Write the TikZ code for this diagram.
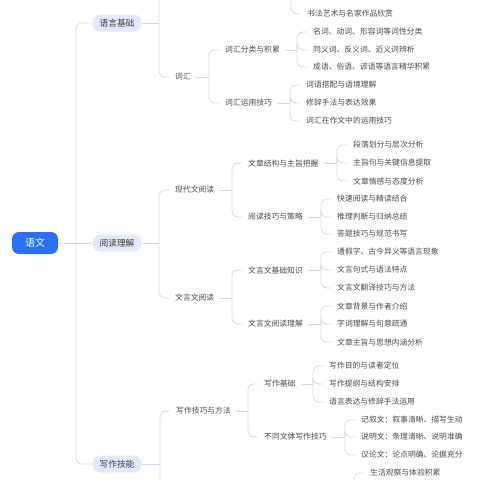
\documentclass[tikz,border=0pt]{standalone}
\usepackage{fontspec}
\newfontfamily\cjk{Noto Sans CJK SC}
\definecolor{rootblue}{HTML}{2C6FEF}
\definecolor{topicbg}{HTML}{E3E8FB}
\definecolor{linkgray}{HTML}{D6D6E6}
\definecolor{txtgray}{HTML}{4A4A4A}

\begin{document}
\begin{tikzpicture}[x=1pt, y=-1pt,
  root/.style={fill=rootblue, text=white, rounded corners=7pt, minimum width=46pt,
    minimum height=22pt, inner sep=0pt, font=\cjk\fontsize{10}{12}\selectfont},
  topic/.style={fill=topicbg, text=txtgray!80!black, rounded corners=8pt, minimum width=49pt,
    minimum height=17pt, inner sep=0pt, font=\cjk\fontsize{8.7}{10}\selectfont},
  leaf/.style={anchor=west, inner xsep=2pt, inner ysep=1pt, text=txtgray,
    font=\cjk\fontsize{7.8}{9}\selectfont},
  link/.style={draw=linkgray, line width=0.8pt, rounded corners=6pt}]
  \useasboundingbox (0,0) rectangle (480,480);
  \clip (0,0) rectangle (480,480);

  % root and main topics
  \node[root]  (yw)   at (35,243)  {语文};
  \node[topic] (yyjc) at (117,23)  {语言基础};
  \node[topic] (ydlj) at (117,243) {阅读理解};
  \node[topic] (xzjn) at (117,464) {写作技能};
  \coordinate (trunk) at (76,243);

  % level 2
  \node[leaf] (ch)   at (173,77)  {词汇};
  \node[leaf] (xdw)  at (173,190) {现代文阅读};
  \node[leaf] (wyw)  at (173,298) {文言文阅读};
  \node[leaf] (xzjq) at (174,411) {写作技巧与方法};
  \coordinate (hid1) at (173,-31);   % 语言基础 first branch, off the page
  \coordinate (hid4) at (174,518);   % 写作技能 second branch, off the page

  % level 3
  \node[leaf] (chfl) at (223,50)  {词汇分类与积累};
  \node[leaf] (chyy) at (223,103) {词汇运用技巧};
  \node[leaf] (wzjg) at (246,163) {文章结构与主旨把握};
  \node[leaf] (ydjq) at (246,217) {阅读技巧与策略};
  \node[leaf] (wyjc) at (246,270) {文言文基础知识};
  \node[leaf] (wyld) at (246,324) {文言文阅读理解};
  \node[leaf] (xzjc) at (262,384) {写作基础};
  \node[leaf] (btwt) at (262,437) {不同文体写作技巧};

  % level 4
  \node[leaf] (sf)    at (305,14)  {书法艺术与名家作品欣赏};
  \coordinate (hid2) at (291,-4);
  \node[leaf] (chfl1) at (311,32)  {名词、动词、形容词等词性分类};
  \node[leaf] (chfl2) at (311,50)  {同义词、反义词、近义词辨析};
  \node[leaf] (chfl3) at (311,67)  {成语、俗语、谚语等语言精华积累};
  \node[leaf] (chyy1) at (304,85)  {词语搭配与语境理解};
  \node[leaf] (chyy2) at (304,103) {修辞手法与表达效果};
  \node[leaf] (chyy3) at (304,121) {词汇在作文中的运用技巧};
  \node[leaf] (wzjg1) at (351,145) {段落划分与层次分析};
  \node[leaf] (wzjg2) at (351,163) {主旨句与关键信息提取};
  \node[leaf] (wzjg3) at (351,181) {文章情感与态度分析};
  \node[leaf] (ydjq1) at (335,199) {快速阅读与精读结合};
  \node[leaf] (ydjq2) at (335,217) {推理判断与归纳总结};
  \node[leaf] (ydjq3) at (335,234) {答题技巧与规范书写};
  \node[leaf] (wyjc1) at (335,252) {通假字、古今异义等语言现象};
  \node[leaf] (wyjc2) at (335,270) {文言句式与语法特点};
  \node[leaf] (wyjc3) at (335,288) {文言文翻译技巧与方法};
  \node[leaf] (wyld1) at (335,306) {文章背景与作者介绍};
  \node[leaf] (wyld2) at (335,324) {字词理解与句意疏通};
  \node[leaf] (wyld3) at (335,342) {文章主旨与思想内涵分析};
  \node[leaf] (xzjc1) at (327,366) {写作目的与读者定位};
  \node[leaf] (xzjc2) at (327,384) {写作提纲与结构安排};
  \node[leaf] (xzjc3) at (327,402) {语言表达与修辞手法运用};
  \node[leaf] (btwt1) at (359,420) {记叙文：叙事清晰、描写生动};
  \node[leaf] (btwt2) at (359,437) {说明文：条理清晰、说明准确};
  \node[leaf] (btwt3) at (359,455) {议论文：论点明确、论据充分};
  \node[leaf] (shgc)  at (368,473) {生活观察与体验积累};
  \coordinate (hid3) at (354,491);

  % trunk
  \draw[link] (yw.east) -- (ydlj.west);
  \draw[link] (yyjc.west) -| (trunk) |- (xzjn.west);

  % main topics to level 2
  \draw[link] (yyjc.east) -- ([xshift=-14pt]ch.west |- yyjc.east);
  \draw[link] ([xshift=-14pt]ch.west |- yyjc.east) |- (hid1);
  \draw[link] ([xshift=-14pt]ch.west |- yyjc.east) |- ([xshift=-4pt]ch.west);
  \draw[link] (ydlj.east) -- ([xshift=-14pt]xdw.west |- ydlj.east);
  \foreach \c in {xdw,wyw}
    \draw[link] ([xshift=-14pt]xdw.west |- ydlj.east) |- ([xshift=-4pt]\c.west);
  \draw[link] (xzjn.east) -- ([xshift=-14pt]xzjq.west |- xzjn.east);
  \draw[link] ([xshift=-14pt]xzjq.west |- xzjn.east) |- ([xshift=-4pt]xzjq.west);
  \draw[link] ([xshift=-14pt]xzjq.west |- xzjn.east) |- (hid4);

  % level 2 to level 3
  \foreach \p/\a/\b in {ch/chfl/chyy, xdw/wzjg/ydjq, wyw/wyjc/wyld, xzjq/xzjc/btwt} {
    \draw[link] ([xshift=3pt]\p.east) -- ([xshift=-14pt]\a.west |- \p.east);
    \draw[link] ([xshift=-14pt]\a.west |- \p.east) |- ([xshift=-4pt]\a.west);
    \draw[link] ([xshift=-14pt]\a.west |- \p.east) |- ([xshift=-4pt]\b.west);
  }

  % level 3 to level 4
  \foreach \p in {chfl,chyy,wzjg,ydjq,wyjc,wyld,xzjc,btwt} {
    \draw[link] ([xshift=3pt]\p.east) -- ([xshift=-14pt]\p1.west |- \p.east);
    \foreach \i in {1,2,3}
      \draw[link] ([xshift=-14pt]\p1.west |- \p.east) |- ([xshift=-4pt]\p\i.west);
  }
  \draw[link] (hid2) |- ([xshift=-4pt]sf.west);
  \draw[link] (hid3) |- ([xshift=-4pt]shgc.west);
\end{tikzpicture}
\end{document}
